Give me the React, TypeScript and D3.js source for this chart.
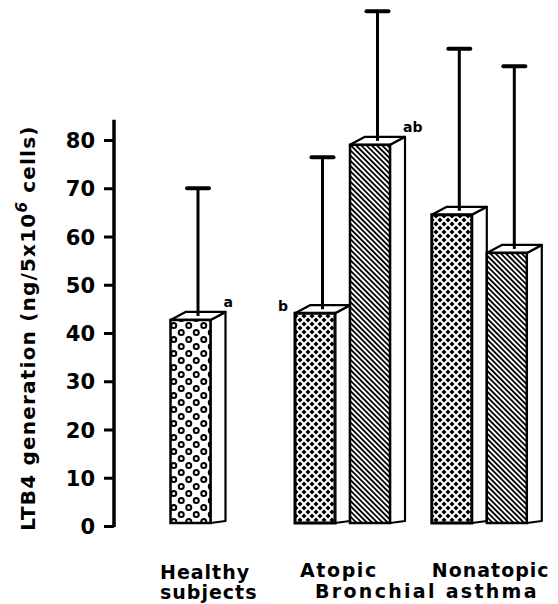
import React, { useEffect, useRef } from "react";
import * as d3 from "d3";

// groups on the x axis (relative position of group centres)
const groupNames = ["Healthy subjects", "Atopic", "Nonatopic"];
const groupPos = [0, 1, 1.9];

// one entry per bar
const barGroup = [0, 1, 1, 2, 2];
const barSlot = [0, -1, 0, -1, 0]; // 0 = single / right of pair, -1 = left of pair
const barMeans = [42.7, 44.1, 79.0, 64.5, 56.6];
const barErrTop = [70.0, 76.4, 106.7, 98.9, 95.3];
const barPattern = ["dots", "cross", "hatch", "cross", "hatch"];
const barLetters = ["a", "b", "ab", "", ""];

const yTicks = [0, 10, 20, 30, 40, 50, 60, 70, 80];

export default function App() {
  const ref = useRef<SVGSVGElement | null>(null);

  useEffect(() => {
    const svg = d3.select(ref.current);
    svg.selectAll("*").remove();

    const font = "'DejaVu Sans', sans-serif";
    const y = d3.scaleLinear().domain([0, 80]).range([526, 140]);
    const gx = d3.scaleLinear().domain([0, 1]).range([198, 350]);

    const w = 40, dx = 15, dy = 8, baseGap = 3;

    // patterns
    const defs = svg.append("defs");
    const dots = defs.append("pattern").attr("id", "dots")
      .attr("patternUnits", "userSpaceOnUse").attr("width", 15).attr("height", 14)
      .attr("x", 170).attr("y", 0);
    dots.append("rect").attr("width", 15).attr("height", 14).attr("fill", "#fff");
    [[3.75, 3.5], [11.25, 10.5]].forEach(([cx, cy]) => {
      dots.append("circle").attr("cx", cx).attr("cy", cy).attr("r", 2.5)
        .attr("fill", "#fff").attr("stroke", "#000").attr("stroke-width", 2);
    });

    const cross = defs.append("pattern").attr("id", "cross")
      .attr("patternUnits", "userSpaceOnUse").attr("width", 8).attr("height", 8);
    cross.append("rect").attr("width", 8).attr("height", 8).attr("fill", "#000");
    cross.append("path").attr("d", "M0,0L8,8M8,0L0,8")
      .attr("stroke", "#fff").attr("stroke-width", 2);

    const hatch = defs.append("pattern").attr("id", "hatch")
      .attr("patternUnits", "userSpaceOnUse").attr("width", 3.7).attr("height", 10)
      .attr("patternTransform", "rotate(-45)");
    hatch.append("rect").attr("width", 3.7).attr("height", 10).attr("fill", "#fff");
    hatch.append("rect").attr("width", 1.8).attr("height", 10).attr("fill", "#000");

    // y axis
    const axis = d3.axisLeft(y).tickValues(yTicks).tickSize(10).tickPadding(9);
    const ga = svg.append("g").attr("transform", "translate(114,0)").call(axis);
    ga.select(".domain").remove();
    ga.selectAll(".tick line").attr("stroke", "#000").attr("stroke-width", 3);
    ga.selectAll(".tick text")
      .attr("font-family", font).attr("font-weight", "bold")
      .attr("font-size", 21).attr("fill", "#000").attr("dy", "0.36em");
    svg.append("line")
      .attr("x1", 114).attr("x2", 114)
      .attr("y1", y(0) + 1).attr("y2", y(84.2))
      .attr("stroke", "#000").attr("stroke-width", 3.5);

    // y label
    const yl = svg.append("text")
      .attr("transform", "translate(35,328) rotate(-90)")
      .attr("text-anchor", "middle")
      .attr("font-family", font).attr("font-weight", "bold")
      .attr("font-size", 20).attr("letter-spacing", 1.2).attr("fill", "#000");
    yl.append("tspan").text("LTB4 generation (ng/5x10");
    yl.append("tspan").text("6").attr("font-size", 15).attr("font-style", "italic")
      .attr("dy", -8);
    yl.append("tspan").text(" cells)").attr("dy", 8);

    // bars
    barMeans.forEach((v, i) => {
      const center = gx(groupPos[barGroup[i]]);
      const single = barGroup.filter((g) => g === barGroup[i]).length === 1;
      const x0 = single ? center - (w + dx) / 2 : center + barSlot[i] * (w + dx);
      const yt = y(v);
      const yb = y(0) - baseGap;
      const g = svg.append("g");

      // error bar
      const xc = x0 + (w + dx) / 2;
      g.append("line").attr("x1", xc).attr("x2", xc)
        .attr("y1", yt - dy / 2).attr("y2", y(barErrTop[i]))
        .attr("stroke", "#000").attr("stroke-width", 3);
      g.append("line").attr("x1", xc - 11).attr("x2", xc + 11)
        .attr("y1", y(barErrTop[i])).attr("y2", y(barErrTop[i]))
        .attr("stroke", "#000").attr("stroke-width", 4).attr("stroke-linecap", "round");

      // side face
      g.append("path")
        .attr("d", `M${x0 + w},${yt}L${x0 + w + dx},${yt - dy}L${x0 + w + dx},${yb - 2}L${x0 + w},${yb}Z`)
        .attr("fill", "#fff").attr("stroke", "#000").attr("stroke-width", 2.2)
        .attr("stroke-linejoin", "round");
      // top face
      g.append("path")
        .attr("d", `M${x0},${yt}L${x0 + dx},${yt - dy}L${x0 + w + dx},${yt - dy}L${x0 + w},${yt}Z`)
        .attr("fill", "#fff").attr("stroke", "#000").attr("stroke-width", 2.2)
        .attr("stroke-linejoin", "round");
      // error line over top face
      g.append("line").attr("x1", xc).attr("x2", xc)
        .attr("y1", yt - dy / 2).attr("y2", yt - dy)
        .attr("stroke", "#000").attr("stroke-width", 3);
      // front face
      g.append("rect").attr("x", x0).attr("y", yt).attr("width", w).attr("height", yb - yt)
        .attr("fill", `url(#${barPattern[i]})`)
        .attr("stroke", "#000").attr("stroke-width", barPattern[i] === "cross" ? 3 : 2.5);

      // significance letters
      const letter = barLetters[i];
      if (letter) {
        const left = !single && barSlot[i] < 0;
        g.append("text")
          .attr("x", left ? x0 - 7 : x0 + w + dx - 2)
          .attr("y", left ? yt - 2 : yt - dy - 5)
          .attr("text-anchor", left ? "end" : "start")
          .attr("font-family", font).attr("font-weight", "bold")
          .attr("font-size", 14).attr("fill", "#000")
          .text(letter);
      }
    });

    // x labels
    const xl = [
      { t: "Healthy", x: gx(groupPos[0]) - 38, y: 579, ls: 1 },
      { t: "subjects", x: gx(groupPos[0]) - 38, y: 599, ls: 1 },
      { t: groupNames[1], x: gx(groupPos[1]) - 50, y: 577, ls: 1.6 },
      { t: groupNames[2], x: gx(groupPos[2]) - 55, y: 577, ls: 1 },
      { t: "Bronchial asthma", x: gx(groupPos[1]) - 35, y: 598, ls: 2.3 },
    ];
    svg.selectAll("text.xl").data(xl).enter().append("text")
      .attr("class", "xl")
      .attr("x", (d) => d.x).attr("y", (d) => d.y)
      .attr("font-family", font).attr("font-weight", "bold")
      .attr("font-size", 19).attr("letter-spacing", (d) => d.ls)
      .attr("fill", "#000")
      .text((d) => d.t);
  }, []);

  return (
    <svg
      ref={ref}
      width={558}
      height={604}
      style={{ position: "absolute", left: 0, top: 0, background: "#fff" }}
    />
  );
}
